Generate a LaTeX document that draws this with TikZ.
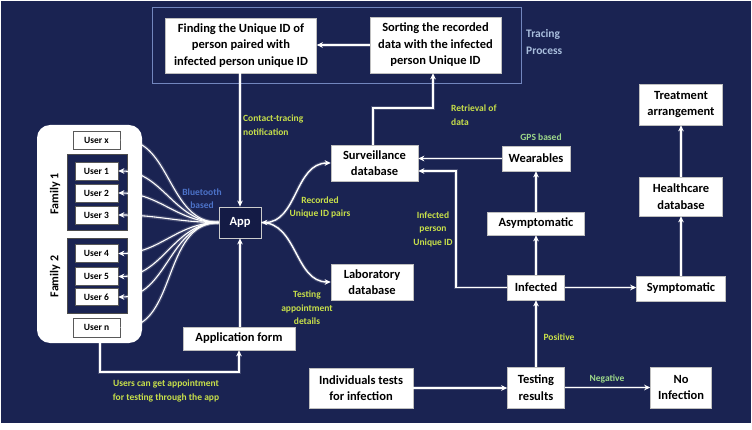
\documentclass[tikz,border=0pt]{standalone}
\usepackage{fontspec}
\setmainfont{Carlito}
\usetikzlibrary{arrows.meta}
\definecolor{bg}{HTML}{1A2352}
\definecolor{appbg}{HTML}{141B45}
\definecolor{lbl}{HTML}{C8E04A}
\definecolor{lblg}{HTML}{9ED98A}
\definecolor{lblb}{HTML}{4C72C8}
\definecolor{trc}{HTML}{A9BEDD}
\definecolor{frm}{HTML}{7286BE}
\begin{document}
\begin{tikzpicture}[x=1pt,y=-1pt,
  sz/.style 2 args={minimum width=#1pt, minimum height=#2pt},
  box/.style={draw=gray!50, fill=white, text=black, font=\fontsize{12.5}{16.5}\selectfont\bfseries, align=center, inner sep=0pt, line width=0.6pt},
  ubox/.style={draw=gray!70!black, fill=white, text=black, font=\fontsize{9.5}{10}\selectfont\bfseries, inner sep=0pt, line width=0.6pt},
  lab/.style={text=lbl, font=\fontsize{9.5}{13.5}\selectfont\bfseries, align=center, inner sep=0pt},
  tip/.tip={Stealth[length=6pt,width=5.5pt]},
  conn/.style={draw=white, line width=1.4pt, -tip},
  glow/.style={preaction={draw=white, opacity=0.18, line width=3.6pt}}
]
\useasboundingbox (0,0) rectangle (752,430);
\fill[white] (0,0) rectangle (752,430);
\fill[bg] (1,1) rectangle (751,423);

% tracing frame
\node[draw=frm, line width=0.8pt, sz={369}{76}, inner sep=0pt] (trace) at (336.5,45) {};
\node[text=trc, font=\fontsize{11.5}{17}\selectfont\bfseries, align=left, anchor=west, inner sep=0pt] (tracelbl) at (526,42.5) {Tracing\\Process};

% main boxes
\node[box, sz={151}{55}] (find) at (241,45.5) {Finding the Unique ID of\\person paired with\\infected person unique ID};
\node[box, sz={131}{56}] (sort) at (435.5,45) {Sorting the recorded\\data with the infected\\person Unique ID};
\node[box, sz={87}{36}] (surv) at (374.5,163) {Surveillance\\database};
\node[box, sz={82}{36}] (lab) at (372,282) {Laboratory\\database};
\node[draw=gray!40, fill=appbg, text=white, font=\fontsize{12.5}{14}\selectfont\bfseries, sz={42}{31}, inner sep=0pt, line width=0.8pt] (app) at (240,222.5) {App};
\node[box, sz={112}{23}] (appform) at (239,338.5) {Application form};
\node[box, sz={68}{25}] (wear) at (536,158.5) {Wearables};
\node[box, sz={97}{23}] (asym) at (536,223.5) {Asymptomatic};
\node[box, sz={57}{25}] (inf) at (536,287.5) {Infected};
\node[box, sz={57}{41}] (test) at (536,387.5) {Testing\\results};
\node[box, sz={104}{40}] (indiv) at (361,388) {Individuals tests\\for infection};
\node[box, sz={61}{41}] (noinf) at (681,387.5) {No\\Infection};
\node[box, sz={89}{25}] (sym) at (681,288.5) {Symptomatic};
\node[box, sz={83}{39}] (health) at (681,196.5) {Healthcare\\database};
\node[box, sz={83}{41}] (treat) at (681,104.5) {Treatment\\arrangement};

% family container
\node[fill=white, rounded corners=13pt, sz={105}{218}, inner sep=0pt] (cont) at (89.5,234) {};
\node[fill=bg, draw=black!70, sz={60}{76}, inner sep=0pt] (fam1) at (97,192) {};
\node[fill=bg, draw=black!70, sz={60}{75}, inner sep=0pt] (fam2) at (97,275.5) {};
\node[rotate=90, font=\fontsize{12}{14}\selectfont\bfseries, inner sep=0pt] (f1l) at (55,194) {Family 1};
\node[rotate=90, font=\fontsize{12}{14}\selectfont\bfseries, inner sep=0pt] (f2l) at (55,276.5) {Family 2};
\node[ubox, sz={47}{18}] (ux) at (96.5,140) {User x};
\node[ubox, sz={43}{18}] (u1) at (96.5,171) {User 1};
\node[ubox, sz={43}{18}] (u2) at (96.5,193) {User 2};
\node[ubox, sz={43}{18}] (u3) at (96.5,215) {User 3};
\node[ubox, sz={43}{18}] (u4) at (96.5,253.5) {User 4};
\node[ubox, sz={43}{18}] (u5) at (96.5,276.5) {User 5};
\node[ubox, sz={43}{17}] (u6) at (96.5,297) {User 6};
\node[ubox, sz={47}{19}] (un) at (96.5,327.5) {User n};

% labels
\node[lab, align=left, anchor=west] (l1) at (243,125) {Contact-tracing\\notification};
\node[lab, align=left, anchor=west] (l2) at (451,115) {Retrieval of\\data};
\node[lab] (l3) at (320,207.5) {Recorded\\Unique ID pairs};
\node[lab] (l4) at (307,308) {Testing\\appointment\\details};
\node[lab] (l5) at (433,229) {Infected\\person\\Unique ID};
\node[lab, text=lblg] (l6) at (541,137) {GPS based};
\node[lab, text=lblb] (l7) at (202,198.5) {Bluetooth\\based};
\node[lab] (l8) at (166,391) {Users can get appointment\\for testing through the app};
\node[lab] (l9) at (559,337) {Positive};
\node[lab, text=lblg] (l10) at (607,379) {Negative};

% connectors
\draw[conn, glow] (sort.west) -- (sort.west -| find.east);
\draw[conn, glow] (find.south -| app.north) -- (app.north);
\coordinate (c2) at (433,108);
\draw[conn, glow] (surv.north -| 373,0) |- (c2) -- (c2 |- sort.south);
\draw[conn, glow] (wear.west) -- (wear.west -| surv.east);
\coordinate (c1) at (456,171);
\draw[conn, glow] (inf.west) -| (c1) -- (c1 -| surv.east);
\draw[conn, glow] (inf.north) -- (asym.south);
\draw[conn, glow] (asym.north) -- (wear.south);
\draw[conn, glow] (inf.east) -- (inf.east -| sym.west);
\draw[conn, glow] (sym.north) -- (health.south);
\draw[conn, glow] (health.north) -- (treat.south);
\draw[conn, glow] (test.north) -- (inf.south);
\draw[conn, glow] (test.east) -- (noinf.west);
\draw[conn, glow] (indiv.east) -- (indiv.east -| test.west);
\draw[conn, glow] (appform.north -| app.south) -- (app.south);
\coordinate (c3) at (100,372);
\draw[conn, glow] (c3 |- cont.south) -- (c3) -| (appform.south);
\draw[conn, glow, tip-tip] (app.east) to[out=0,in=180] (surv.west);
\draw[conn, glow] (app.east) to[out=0,in=180] (lab.west);
\foreach \u in {ux,u1,u2,u3,u4,u5,u6,un}{
  \draw[conn, glow, line width=1.1pt] (app.west) to[out=180,in=0] (\u.east);
}
\end{tikzpicture}
\end{document}
